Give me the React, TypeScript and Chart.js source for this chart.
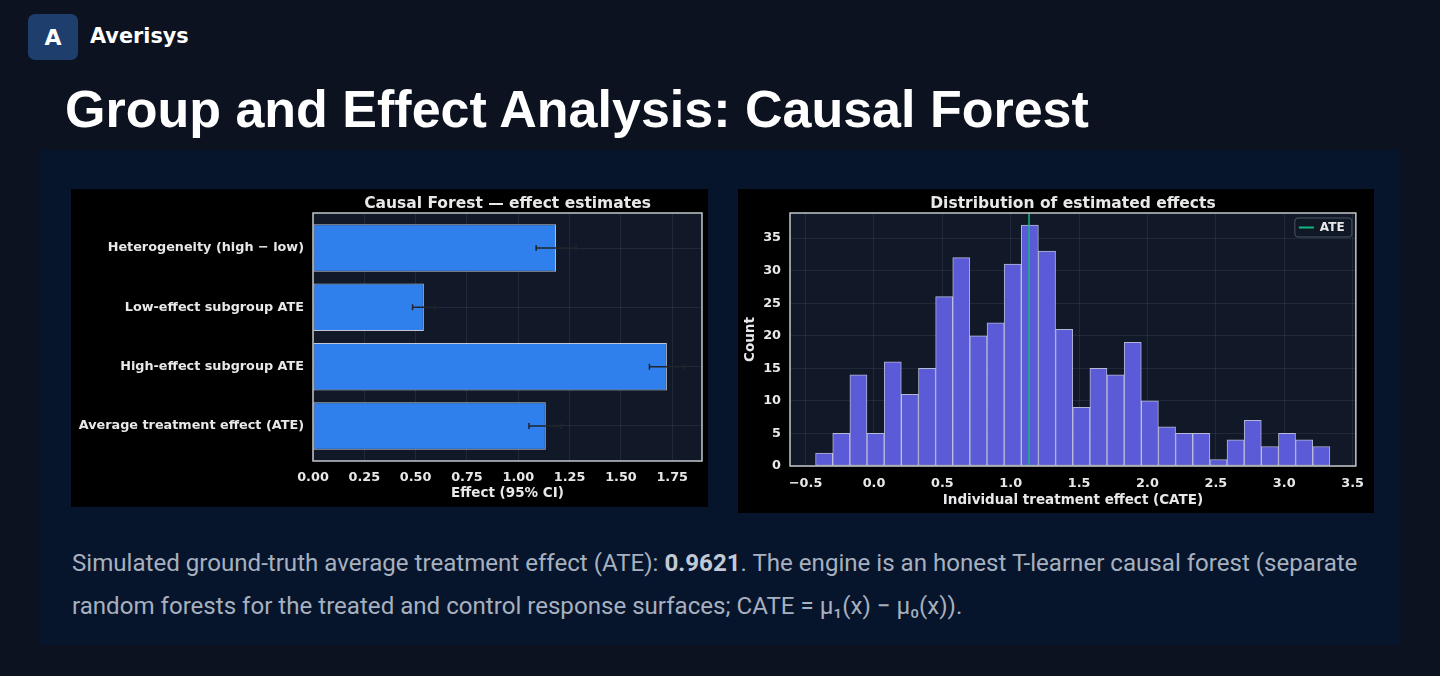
import { useEffect, useRef } from 'react';
import { Chart, registerables } from 'chart.js';

Chart.register(...registerables);

// left panel: effect estimates (index 0 is the bottom bar)
const effectLabels = [
  'Average treatment effect (ATE)',
  'High-effect subgroup ATE',
  'Low-effect subgroup ATE',
  'Heterogeneity (high − low)',
];
const effectValues = [1.134, 1.724, 0.54, 1.184];
const ciLow = [1.052, 1.639, 0.485, 1.087];
const ciHigh = [1.208, 1.805, 0.594, 1.282];

// right panel: histogram of CATE
const binEdges = [
  -0.427, -0.302, -0.176, -0.051, 0.075, 0.2, 0.325, 0.451, 0.576, 0.701, 0.827,
  0.952, 1.077, 1.203, 1.328, 1.454, 1.579, 1.704, 1.83, 1.955, 2.08, 2.206,
  2.331, 2.457, 2.582, 2.707, 2.833, 2.958, 3.083, 3.209, 3.334,
];
const binCounts = [
  2, 5, 14, 5, 16, 11, 15, 26, 32, 20, 22, 31, 37, 33, 21, 9, 15, 14, 19, 10, 6,
  5, 5, 1, 4, 7, 3, 5, 4, 3,
];
const ateEstimate = 1.134;
const legendLabels = ['ATE'];

const TEXT = '#e8e8ea';
const GRID = 'rgba(148, 163, 184, 0.13)';
const mplFont = (size: number) => ({ family: 'DejaVu Sans', weight: 'bold' as const, size });

const plotFrame = {
  id: 'plotFrame',
  beforeDraw(chart: any) {
    const { ctx, chartArea: a } = chart;
    ctx.save();
    ctx.fillStyle = '#111827';
    ctx.fillRect(a.left, a.top, a.width, a.height);
    ctx.restore();
  },
  afterDraw(chart: any, _args: any, opts: any) {
    const { ctx, chartArea: a } = chart;
    ctx.save();
    ctx.strokeStyle = '#c4c7cc';
    ctx.lineWidth = 1.5;
    ctx.strokeRect(a.left, a.top, a.width, a.height);
    if (opts.title) {
      ctx.fillStyle = TEXT;
      ctx.font = 'bold 15.5px "DejaVu Sans"';
      ctx.textAlign = 'center';
      ctx.textBaseline = 'middle';
      ctx.fillText(opts.title, (a.left + a.right) / 2, a.top - 9);
    }
    ctx.restore();
  },
};

const errorBars = {
  id: 'errorBars',
  afterDatasetsDraw(chart: any) {
    const { ctx, scales } = chart;
    ctx.save();
    ctx.strokeStyle = '#20242b';
    ctx.lineWidth = 1.5;
    ciLow.forEach((lo, i) => {
      const y = scales.y.getPixelForValue(i);
      const x1 = scales.x.getPixelForValue(lo);
      const x2 = scales.x.getPixelForValue(ciHigh[i]);
      ctx.beginPath();
      ctx.moveTo(x1, y);
      ctx.lineTo(x2, y);
      ctx.moveTo(x1, y - 3);
      ctx.lineTo(x1, y + 3);
      ctx.moveTo(x2, y - 3);
      ctx.lineTo(x2, y + 3);
      ctx.stroke();
    });
    ctx.restore();
  },
};

const ateLine = {
  id: 'ateLine',
  afterDatasetsDraw(chart: any) {
    const { ctx, scales, chartArea: a } = chart;
    const x = scales.x.getPixelForValue(ateEstimate);
    ctx.save();
    ctx.strokeStyle = 'rgba(16, 185, 129, 0.75)';
    ctx.lineWidth = 2;
    ctx.beginPath();
    ctx.moveTo(x, a.top);
    ctx.lineTo(x, a.bottom);
    ctx.stroke();

    // legend box, upper right
    const w = 57;
    const h = 19;
    const bx = a.right - w - 4;
    const by = a.top + 5;
    ctx.fillStyle = 'rgba(17, 24, 39, 0.9)';
    ctx.strokeStyle = '#4b5563';
    ctx.lineWidth = 1;
    ctx.beginPath();
    ctx.roundRect(bx, by, w, h, 3);
    ctx.fill();
    ctx.stroke();
    ctx.strokeStyle = '#10b981';
    ctx.lineWidth = 2;
    ctx.beginPath();
    ctx.moveTo(bx + 4, by + h / 2);
    ctx.lineTo(bx + 19, by + h / 2);
    ctx.stroke();
    ctx.fillStyle = TEXT;
    ctx.font = 'bold 12px "DejaVu Sans"';
    ctx.textBaseline = 'middle';
    ctx.fillText(legendLabels[0], bx + 25, by + h / 2 + 0.5);
    ctx.restore();
  },
};

function EffectChart() {
  const canvasRef = useRef<HTMLCanvasElement | null>(null);

  useEffect(() => {
    if (!canvasRef.current) return;
    const chart = new Chart(canvasRef.current, {
      type: 'bar',
      data: {
        datasets: [
          {
            data: effectValues.map((v, i) => ({ x: v, y: i })),
            backgroundColor: '#2f80ed',
            borderColor: 'rgba(226, 232, 240, 0.85)',
            borderWidth: 1,
            borderSkipped: false,
            barPercentage: 0.8,
            categoryPercentage: 1,
          },
        ],
      },
      options: {
        indexAxis: 'y',
        responsive: false,
        animation: false,
        layout: { padding: { left: 0, right: 6, top: 24, bottom: 0 } },
        plugins: {
          legend: { display: false },
          tooltip: { enabled: false },
          plotFrame: { title: 'Causal Forest — effect estimates' },
        } as any,
        scales: {
          x: {
            type: 'linear',
            min: 0,
            max: 1.895,
            offset: false,
            border: { display: false },
            grid: { color: GRID, drawTicks: false, offset: false },
            ticks: {
              stepSize: 0.25,
              includeBounds: false,
              color: TEXT,
              font: mplFont(12.8),
              padding: 9,
              callback: (v: any) => Number(v).toFixed(2),
            },
            title: {
              display: true,
              text: 'Effect (95% CI)',
              color: TEXT,
              font: mplFont(13.5),
              padding: { top: 0, bottom: 5 },
            },
            afterFit: (s: any) => {
              s.height = 46;
            },
          },
          y: {
            type: 'linear',
            min: -0.59,
            max: 3.59,
            offset: false,
            border: { display: false },
            grid: { color: GRID, drawTicks: false, offset: false },
            afterBuildTicks: (s: any) => {
              s.ticks = effectLabels.map((_, i) => ({ value: i }));
            },
            ticks: {
              color: TEXT,
              font: mplFont(12.8),
              padding: 9,
              callback: (v: any) => effectLabels[Number(v)],
            },
            afterFit: (s: any) => {
              s.width = 242;
            },
          },
        },
      },
      plugins: [plotFrame, errorBars],
    });
    return () => chart.destroy();
  }, []);

  return (
    <canvas
      ref={canvasRef}
      width={637}
      height={318}
      style={{ position: 'absolute', left: 71, top: 189, width: 637, height: 318, background: '#000' }}
    />
  );
}

function HistogramChart() {
  const canvasRef = useRef<HTMLCanvasElement | null>(null);

  useEffect(() => {
    if (!canvasRef.current) return;
    const chart = new Chart(canvasRef.current, {
      type: 'bar',
      data: {
        datasets: [
          {
            data: binCounts.map((c, i) => ({ x: (binEdges[i] + binEdges[i + 1]) / 2, y: c })),
            backgroundColor: '#5b5bd8',
            borderColor: 'rgba(220, 222, 255, 0.8)',
            borderWidth: 1,
            borderSkipped: false,
            barPercentage: 1,
            categoryPercentage: 1,
          },
        ],
      },
      options: {
        responsive: false,
        animation: false,
        layout: { padding: { left: 0, right: 16, top: 24, bottom: 0 } },
        plugins: {
          legend: { display: false },
          tooltip: { enabled: false },
          plotFrame: { title: 'Distribution of estimated effects' },
        } as any,
        scales: {
          x: {
            type: 'linear',
            min: -0.614,
            max: 3.524,
            offset: false,
            border: { display: false },
            grid: { color: GRID, drawTicks: false, offset: false },
            ticks: {
              stepSize: 0.5,
              includeBounds: false,
              color: TEXT,
              font: mplFont(12.8),
              padding: 10,
              callback: (v: any) => Number(v).toFixed(1).replace('-', '−'),
            },
            title: {
              display: true,
              text: 'Individual treatment effect (CATE)',
              color: TEXT,
              font: mplFont(13.5),
              padding: { top: 0, bottom: 4 },
            },
            afterFit: (s: any) => {
              s.height = 47;
            },
          },
          y: {
            type: 'linear',
            min: 0,
            max: 38.85,
            border: { display: false },
            grid: { color: GRID, drawTicks: false },
            ticks: {
              stepSize: 5,
              includeBounds: false,
              color: TEXT,
              font: mplFont(12.8),
              padding: 9,
            },
            title: {
              display: true,
              text: 'Count',
              color: TEXT,
              font: mplFont(13.5),
              padding: { top: 4, bottom: 0 },
            },
            afterFit: (s: any) => {
              s.width = 52;
            },
          },
        },
      },
      plugins: [plotFrame, ateLine],
    });
    return () => chart.destroy();
  }, []);

  return (
    <canvas
      ref={canvasRef}
      width={636}
      height={324}
      style={{ position: 'absolute', left: 738, top: 189, width: 636, height: 324, background: '#000' }}
    />
  );
}

export default function App() {
  return (
    <div
      style={{
        position: 'absolute',
        left: 0,
        top: 0,
        width: 1440,
        height: 676,
        overflow: 'hidden',
        background: '#0c121f',
      }}
    >
      <div
        style={{
          position: 'absolute',
          left: 28,
          top: 14,
          width: 50,
          height: 46,
          borderRadius: 7,
          background: '#1e3f6e',
          color: '#fff',
          font: 'bold 22px "DejaVu Sans"',
          display: 'flex',
          alignItems: 'center',
          justifyContent: 'center',
        }}
      >
        A
      </div>
      <div
        style={{
          position: 'absolute',
          left: 90,
          top: 24,
          color: '#fff',
          font: 'bold 20.8px "DejaVu Sans"',
          lineHeight: '24px',
        }}
      >
        Averisys
      </div>
      <div
        style={{
          position: 'absolute',
          left: 65,
          top: 83,
          color: '#fff',
          font: 'bold 52px "Liberation Sans", Arial, sans-serif',
          lineHeight: '52px',
          whiteSpace: 'nowrap',
        }}
      >
        Group and Effect Analysis: Causal Forest
      </div>
      <div
        style={{
          position: 'absolute',
          left: 40,
          top: 150,
          width: 1360,
          height: 495,
          background: '#06152b',
        }}
      />
      <EffectChart />
      <HistogramChart />
      <div
        style={{
          position: 'absolute',
          left: 72,
          top: 542,
          color: '#a7b0bf',
          font: '24.1px Roboto, sans-serif',
          lineHeight: '43px',
          whiteSpace: 'nowrap',
        }}
      >
        Simulated ground-truth average treatment effect (ATE): <b style={{ color: '#c3cad6' }}>0.9621</b>. The engine is
        an honest T-learner causal forest (separate
        <br />
        random forests for the treated and control response surfaces; CATE = μ₁(x) − μ₀(x)).
      </div>
    </div>
  );
}
